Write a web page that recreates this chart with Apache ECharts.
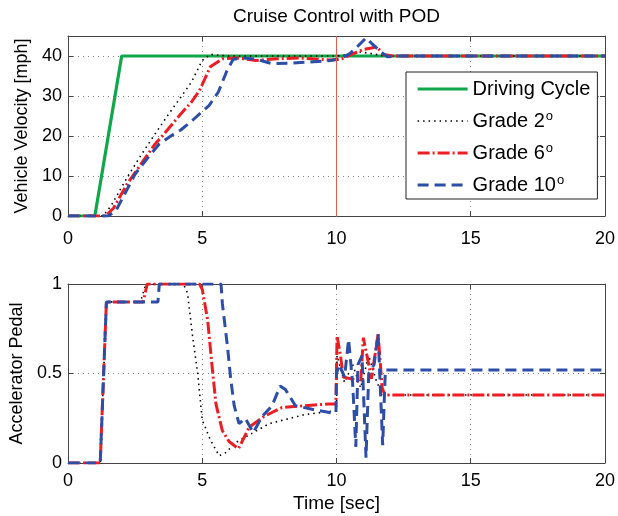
<!DOCTYPE html>
<html>
<head>
<meta charset="utf-8">
<script src="https://cdn.jsdelivr.net/npm/echarts@6/dist/echarts.min.js"></script>
<style>html,body{margin:0;padding:0;background:#fff}#c{width:618px;height:516px}</style>
</head>
<body>
<div id="c"></div>
<script>
// ---- data ----
const seriesNames = ['Driving Cycle', 'Grade 2', 'Grade 6', 'Grade 10'];
const xTicks = [0, 5, 10, 15, 20];
const refTime = 10;

const velTimeCycle = [0, 1, 2, 20];
const velCycle = [0, 0, 40, 40];

const velTimeG2 = [0, 1.3, 1.6, 2.2, 2.7, 3.2, 3.7, 4.2, 4.6, 5.0, 5.3, 5.6, 6.0, 8.0, 10.0, 10.4, 10.9, 11.3, 11.8, 20];
const velG2 = [0, 0, 2.5, 9.6, 15, 20.1, 25, 29.7, 33.5, 38.9, 40.4, 40.2, 40, 40, 40, 40.3, 41, 40.6, 40, 40];

const velTimeG6 = [0, 1.4, 1.7, 2.2, 2.7, 3.2, 3.7, 4.2, 4.6, 4.9, 5.3, 5.75, 6.3, 7.0, 7.8, 8.6, 9.3, 9.8, 10.2, 10.6, 11.0, 11.3, 11.5, 11.75, 12.1, 20];
const velG6 = [0, 0, 2, 8, 12.8, 17.6, 21.5, 25.5, 28.5, 31.4, 37.3, 39.3, 39.5, 38.9, 39.3, 39.5, 39.2, 39, 39.3, 40.5, 41.6, 42, 42.3, 40.4, 40, 40];

const velTimeG10 = [0, 1.5, 1.8, 2.5, 3.0, 3.4, 3.9, 4.2, 4.65, 5.25, 5.6, 5.9, 6.15, 6.5, 7.0, 7.6, 8.3, 9.0, 9.7, 10.1, 10.5, 10.8, 11.1, 11.3, 11.65, 11.9, 12.3, 20];
const velG10 = [0, 0, 1.5, 10.5, 14.8, 18, 20.3, 21.5, 24, 27.6, 31, 36, 39.2, 39.5, 39.2, 38.1, 38.2, 38.5, 38.8, 39.2, 40.6, 42.5, 44.5, 43.2, 41, 39.8, 40, 40];

const pedTimeG2 = [0, 1.2, 1.43, 2.7, 2.9, 4.3, 4.45, 4.64, 4.83, 5.0, 5.3, 5.63, 5.9, 6.2, 6.9, 7.5, 8.8, 9.85, 10.0, 10.02, 10.3, 10.6, 10.9, 11.2, 11.5, 11.75, 20];
const pedG2 = [0, 0, 0.9, 0.9, 1, 1, 0.95, 0.71, 0.5, 0.24, 0.13, 0.04, 0.06, 0.11, 0.17, 0.22, 0.27, 0.29, 0.29, 0.6, 0.45, 0.55, 0.42, 0.6, 0.45, 0.38, 0.38];

const pedTimeG6 = [0, 1.2, 1.43, 2.8, 2.95, 4.9, 5.0, 5.2, 5.38, 5.51, 5.75, 6.0, 6.35, 6.75, 7.3, 7.97, 8.84, 9.7, 9.98, 10.02, 10.15, 10.25, 10.55, 10.9, 11.0, 11.2, 11.3, 11.55, 11.7, 11.8, 20];
const pedG6 = [0, 0, 0.9, 0.9, 1, 1, 0.97, 0.8, 0.52, 0.33, 0.18, 0.12, 0.08, 0.2, 0.26, 0.31, 0.32, 0.33, 0.33, 0.71, 0.6, 0.48, 0.47, 0.45, 0.7, 0.55, 0.47, 0.72, 0.42, 0.38, 0.38];

const pedTimeG10 = [0, 1.2, 1.43, 3.35, 3.4, 5.7, 5.75, 5.94, 6.06, 6.19, 6.37, 6.6, 6.9, 7.23, 7.6, 7.9, 8.1, 8.47, 9.09, 9.83, 9.98, 10.0, 10.1, 10.3, 10.45, 10.6, 10.72, 10.8, 10.95, 11.1, 11.2, 11.4, 11.55, 11.72, 11.82, 20];
const pedG10 = [0, 0, 0.9, 0.9, 1, 1, 0.89, 0.65, 0.47, 0.32, 0.22, 0.25, 0.17, 0.26, 0.32, 0.43, 0.41, 0.32, 0.3, 0.28, 0.28, 0.5, 0.55, 0.48, 0.69, 0.45, 0.09, 0.55, 0.6, 0.03, 0.5, 0.55, 0.72, 0.1, 0.52, 0.52];

// ---- styles ----
const FONT = 'Liberation Sans, Arial, Helvetica, sans-serif';
const colors = {cycle: '#10a64a', g2: '#000000', g6: '#ee1d23', g10: '#2d4ea6'};
const styles = {
  cycle: {color: colors.cycle, width: 3.2, type: 'solid'},
  g2: {color: colors.g2, width: 1.6, type: [1.5, 4]},
  g6: {color: colors.g6, width: 3, type: [12, 3, 2, 3]},
  g10: {color: colors.g10, width: 3, type: [11, 6]}
};
const zip = (t, v) => t.map((x, i) => [x, v[i]]);

const axisLineStyle = {color: '#444', width: 1};
const gridLine = {show: true, lineStyle: {color: '#8a8a8a', type: [1, 4], width: 1}};
const labelStyle = {color: '#000', fontSize: 18, fontFamily: FONT};

function xAxisMain(gi, labelMargin, name, nameGap) {
  return {
    type: 'value', gridIndex: gi, min: xTicks[0], max: xTicks[xTicks.length - 1], interval: 5,
    position: 'bottom',
    axisLine: {show: true, onZero: false, lineStyle: axisLineStyle},
    axisTick: {show: true, inside: true, length: 5, lineStyle: axisLineStyle},
    axisLabel: Object.assign({margin: labelMargin}, labelStyle),
    splitLine: gridLine,
    name: name, nameLocation: 'middle', nameGap: nameGap,
    nameTextStyle: {color: '#000', fontSize: 19, fontFamily: FONT}
  };
}
function xAxisTop(gi, name) {
  return {
    type: 'value', gridIndex: gi, min: 0, max: 20, interval: 5, position: 'top',
    axisLine: {show: true, onZero: false, lineStyle: axisLineStyle},
    axisTick: {show: true, inside: true, length: 5, lineStyle: axisLineStyle},
    axisLabel: {show: false}, splitLine: {show: false},
    name: name || '', nameLocation: 'middle', nameGap: 10,
    nameTextStyle: {color: '#000', fontSize: 19, fontFamily: FONT}
  };
}
function yAxisMain(gi, max, interval, name, fmt) {
  return {
    type: 'value', gridIndex: gi, min: 0, max: max, interval: interval, position: 'left',
    axisLine: {show: true, onZero: false, lineStyle: axisLineStyle},
    axisTick: {show: true, inside: true, length: 5, lineStyle: axisLineStyle},
    axisLabel: Object.assign({margin: 6, showMaxLabel: fmt ? true : false, formatter: fmt}, labelStyle),
    splitLine: gridLine,
    name: name, nameLocation: 'middle', nameRotate: 90, nameGap: 34,
    nameTextStyle: {color: '#000', fontSize: 18, fontFamily: FONT}
  };
}
function yAxisRight(gi, max, interval) {
  return {
    type: 'value', gridIndex: gi, min: 0, max: max, interval: interval, position: 'right',
    axisLine: {show: true, onZero: false, lineStyle: axisLineStyle},
    axisTick: {show: true, inside: true, length: 5, lineStyle: axisLineStyle},
    axisLabel: {show: false}, splitLine: {show: false}
  };
}

function lineSeries(name, data, st, xi, yi, extra) {
  return Object.assign({
    name: name, type: 'line', data: data, xAxisIndex: xi, yAxisIndex: yi,
    symbol: 'none', showSymbol: false, animation: false, silent: true,
    lineStyle: {color: st.color, width: st.width, type: st.type},
    itemStyle: {color: st.color}
  }, extra || {});
}

const chart = echarts.init(document.getElementById('c'), null, {renderer: 'canvas'});
chart.setOption({
  animation: false,
  backgroundColor: '#fff',
  textStyle: {fontFamily: FONT},
  grid: [
    {left: 68, right: 11, top: 36, height: 180, containLabel: false},
    {left: 68, right: 11, top: 284, height: 179, containLabel: false}
  ],
  xAxis: [
    xAxisMain(0, 14, '', 30),
    xAxisTop(0, 'Cruise Control with POD'),
    xAxisMain(1, 9, 'Time [sec]', 31),
    xAxisTop(1, '')
  ],
  yAxis: [
    yAxisMain(0, 45, 10, 'Vehicle Velocity [mph]', null),
    yAxisRight(0, 45, 10),
    yAxisMain(1, 1, 0.5, 'Accelerator Pedal', v => String(v)),
    yAxisRight(1, 1, 0.5)
  ],
  legend: {
    show: true, orient: 'vertical', left: 406, top: 72,
    backgroundColor: '#fff', borderColor: '#222', borderWidth: 1,
    padding: [6, 7, 3, 10], itemWidth: 50, itemHeight: 14, itemGap: 10,
    data: seriesNames,
    lineStyle: {width: 'inherit'},
    itemStyle: {opacity: 0},
    textStyle: {
      color: '#000', fontSize: 20, lineHeight: 22, fontFamily: FONT,
      rich: {
        sup: {fontSize: 13, fontFamily: FONT, color: '#000', verticalAlign: 'top', lineHeight: 12, padding: [0, 0, 0, 1]}
      }
    },
    formatter: n => n.indexOf('Grade') === 0 ? n + '{sup|o}' : n
  },
  series: [
    lineSeries(seriesNames[0], zip(velTimeCycle, velCycle), styles.cycle, 0, 0, {
      markLine: {
        silent: true, symbol: ['none', 'none'], label: {show: false},
        lineStyle: {color: '#e85a52', width: 1, type: 'solid', opacity: 1},
        emphasis: {disabled: true},
        data: [{xAxis: refTime}]
      }
    }),
    lineSeries(seriesNames[1], zip(velTimeG2, velG2), styles.g2, 0, 0),
    lineSeries(seriesNames[2], zip(velTimeG6, velG6), styles.g6, 0, 0),
    lineSeries(seriesNames[3], zip(velTimeG10, velG10), styles.g10, 0, 0),
    lineSeries(seriesNames[1], zip(pedTimeG2, pedG2), styles.g2, 2, 2),
    lineSeries(seriesNames[2], zip(pedTimeG6, pedG6), styles.g6, 2, 2),
    lineSeries(seriesNames[3], zip(pedTimeG10, pedG10), styles.g10, 2, 2)
  ]
});
</script>
</body>
</html>
